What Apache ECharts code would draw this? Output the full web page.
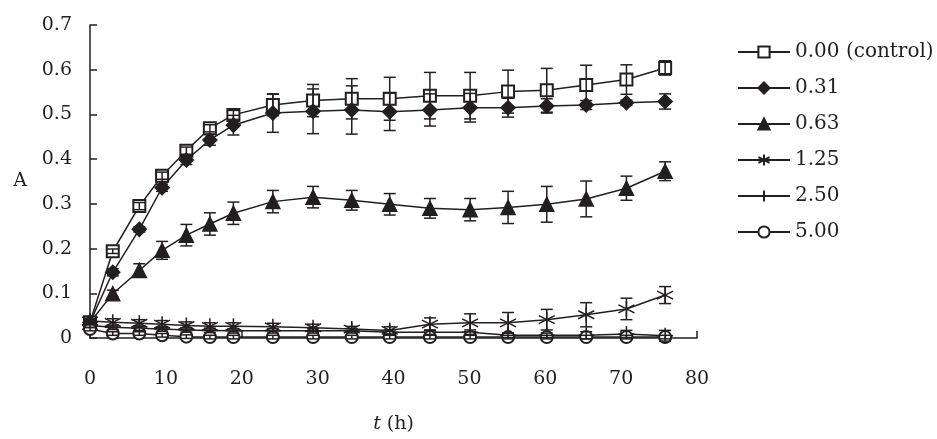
<!DOCTYPE html>
<html>
<head>
<meta charset="utf-8">
<script src="https://cdn.jsdelivr.net/npm/echarts@6/dist/echarts.min.js"></script>
<style>
  html, body { margin: 0; padding: 0; background: #fff; }
  #chart { width: 937px; height: 439px; }
</style>
</head>
<body>
<div id="chart"></div>
<script>
// sampling times (h)
const times = [0, 3, 6.5, 9.5, 12.7, 15.8, 18.9, 24.1, 29.4, 34.5, 39.5, 44.8, 50.1, 55.1, 60.2, 65.4, 70.7, 75.8]

// absorbance per concentration, with error bar half-widths
const control = [0.035, 0.194, 0.295, 0.363, 0.419, 0.469, 0.499, 0.521, 0.531, 0.535, 0.535, 0.542, 0.542, 0.551, 0.554, 0.566, 0.578, 0.604]
const controlErr = [0.005, 0.005, 0.008, 0.008, 0.008, 0.008, 0.01, 0.024, 0.036, 0.045, 0.048, 0.052, 0.052, 0.048, 0.049, 0.044, 0.033, 0.016]
const c031 = [0.035, 0.147, 0.243, 0.336, 0.398, 0.443, 0.476, 0.503, 0.507, 0.510, 0.506, 0.510, 0.515, 0.515, 0.519, 0.521, 0.526, 0.529]
const c031Err = [0.005, 0.008, 0.006, 0.008, 0.01, 0.012, 0.022, 0.043, 0.05, 0.054, 0.042, 0.036, 0.032, 0.021, 0.016, 0.01, 0.006, 0.017]
const c063 = [0.035, 0.099, 0.151, 0.196, 0.230, 0.255, 0.279, 0.305, 0.315, 0.308, 0.299, 0.290, 0.287, 0.292, 0.299, 0.311, 0.335, 0.373]
const c063Err = [0.005, 0.008, 0.015, 0.02, 0.024, 0.025, 0.025, 0.025, 0.024, 0.022, 0.024, 0.022, 0.025, 0.036, 0.04, 0.04, 0.027, 0.021]
const c125 = [0.038, 0.035, 0.033, 0.031, 0.028, 0.026, 0.026, 0.025, 0.023, 0.020, 0.017, 0.031, 0.034, 0.034, 0.041, 0.052, 0.065, 0.096]
const c125Err = [0.006, 0.008, 0.008, 0.008, 0.008, 0.008, 0.008, 0.008, 0.008, 0.006, 0.008, 0.014, 0.02, 0.023, 0.023, 0.027, 0.024, 0.019]
const c250 = [0.028, 0.024, 0.022, 0.02, 0.018, 0.017, 0.016, 0.016, 0.016, 0.016, 0.013, 0.013, 0.013, 0.006, 0.006, 0.006, 0.009, 0.005]
const c250Err = [0.005, 0.005, 0.005, 0.005, 0.005, 0.005, 0.005, 0.005, 0.005, 0.005, 0.005, 0.005, 0.005, 0.005, 0.005, 0.008, 0.008, 0.012]
const c500 = [0.02, 0.010, 0.010, 0.006, 0.003, 0.002, 0.002, 0.002, 0.002, 0.002, 0.002, 0.002, 0.002, 0.002, 0.002, 0.002, 0.002, 0.002]
const c500Err = [0.004, 0.004, 0.004, 0.004, 0.004, 0.004, 0.004, 0.004, 0.004, 0.004, 0.004, 0.004, 0.004, 0.004, 0.004, 0.004, 0.004, 0.004]

const names = ['0.00 (control)', '0.31', '0.63', '1.25', '2.50', '5.00']

const ink = '#231f20'
const font = 'DejaVu Serif'
const starPath = 'path://M5,0L5,10M0.7,2.5L9.3,7.5M0.7,7.5L9.3,2.5'
const plusPath = 'path://M5,0L5,10M0,5L10,5'

function lineSeries(name, vals, symbol, size) {
  return {
    type: 'line',
    name: name,
    data: times.map((t, i) => [t, vals[i]]),
    symbol: symbol,
    symbolSize: size,
    showAllSymbol: true,
    color: ink,
    lineStyle: { color: ink, width: 1.5 },
    itemStyle: { color: ink, borderColor: ink, borderWidth: 1.5 },
    z: 2
  }
}

// error bars go through the axes via api.coord
function errSeries(vals, errs) {
  return {
    type: 'custom',
    silent: true,
    data: times.map((t, i) => [t, vals[i], errs[i]]),
    encode: { x: 0, y: 1 },
    z: 3,
    renderItem: (params, api) => {
      const x = api.value(0)
      const y = api.value(1)
      const e = api.value(2)
      const hi = api.coord([x, y + e])
      const lo = api.coord([x, y - e])
      const w = 6
      const style = { stroke: ink, lineWidth: 1.5 }
      return {
        type: 'group',
        children: [
          { type: 'line', shape: { x1: hi[0], y1: hi[1], x2: lo[0], y2: lo[1] }, style: style },
          { type: 'line', shape: { x1: hi[0] - w, y1: hi[1], x2: hi[0] + w, y2: hi[1] }, style: style },
          { type: 'line', shape: { x1: lo[0] - w, y1: lo[1], x2: lo[0] + w, y2: lo[1] }, style: style }
        ]
      }
    }
  }
}

const chart = echarts.init(document.getElementById('chart'))

chart.setOption({
  animation: false,
  backgroundColor: '#fff',
  textStyle: { fontFamily: font, color: ink },
  grid: { left: 90, right: 240, top: 25, bottom: 88 },
  legend: {
    data: names,
    orient: 'vertical',
    left: 737,
    top: 42,
    padding: 0,
    itemWidth: 52,
    itemHeight: 14,
    itemGap: 16,
    textStyle: { fontFamily: font, fontSize: 20, color: ink, lineHeight: 20 }
  },
  xAxis: {
    type: 'value',
    min: 0,
    max: 80,
    interval: 10,
    name: '{i|t} (h)',
    nameLocation: 'middle',
    nameGap: 77,
    nameTextStyle: {
      fontFamily: font, fontSize: 19, color: ink,
      rich: { i: { fontFamily: font, fontSize: 19, fontStyle: 'italic', color: ink } }
    },
    axisLine: { lineStyle: { color: ink, width: 1.5 } },
    axisTick: { inside: true, length: 7, lineStyle: { color: ink, width: 1.5 } },
    axisLabel: { margin: 32, fontFamily: font, fontSize: 19, color: ink },
    splitLine: { show: false }
  },
  yAxis: {
    type: 'value',
    min: 0,
    max: 0.7,
    interval: 0.1,
    name: 'A',
    nameLocation: 'middle',
    nameRotate: 0,
    nameGap: 63,
    nameTextStyle: { fontFamily: font, fontSize: 19, color: ink },
    axisLine: { show: true, lineStyle: { color: ink, width: 1.5 } },
    axisTick: { show: true, inside: true, length: 7, lineStyle: { color: ink, width: 1.5 } },
    axisLabel: { margin: 18, fontFamily: font, fontSize: 19, color: ink },
    splitLine: { show: false }
  },
  series: [
    lineSeries(names[0], control, 'emptyRect', 12),
    lineSeries(names[1], c031, 'diamond', 14),
    lineSeries(names[2], c063, 'triangle', 14),
    lineSeries(names[3], c125, starPath, 16),
    lineSeries(names[4], c250, plusPath, 16),
    lineSeries(names[5], c500, 'emptyCircle', 12),
    errSeries(control, controlErr),
    errSeries(c031, c031Err),
    errSeries(c063, c063Err),
    errSeries(c125, c125Err),
    errSeries(c250, c250Err),
    errSeries(c500, c500Err)
  ]
})
</script>
</body>
</html>
